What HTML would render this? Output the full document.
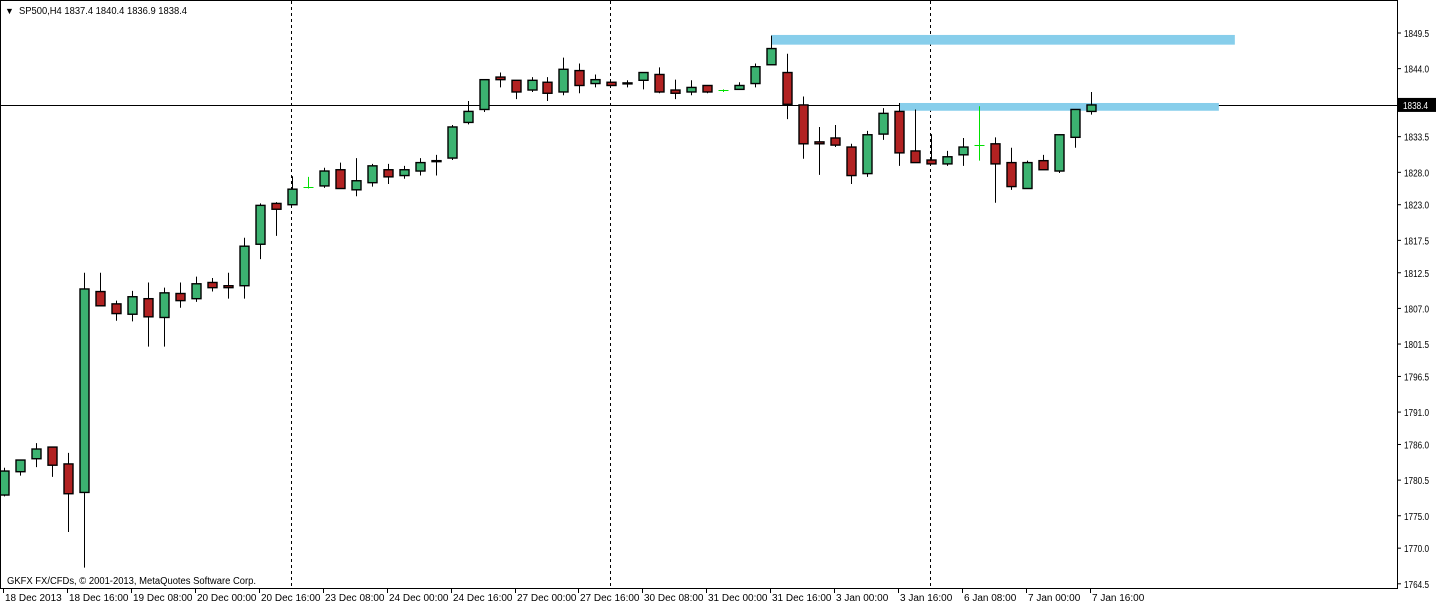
<!DOCTYPE html>
<html><head><meta charset="utf-8">
<style>
html,body{margin:0;padding:0;background:#fff;}
svg{display:block;font-family:"Liberation Sans",sans-serif;}
</style></head>
<body>
<svg id="chart" width="1436" height="606" viewBox="0 0 1436 606" xmlns="http://www.w3.org/2000/svg">
<rect x="0" y="0" width="1436" height="606" fill="#fff"/>
<g id="grid"></g>
<g id="zones"></g>
<g id="candles"></g>
<g id="axes"></g>
<rect x="0.5" y="0.5" width="1397" height="588" fill="none" stroke="#000" stroke-width="1"/>
<text x="5" y="14" font-size="9" fill="#000">▼</text>
<text x="19" y="14" font-size="10" fill="#000" textLength="168" lengthAdjust="spacingAndGlyphs">SP500,H4  1837.4 1840.4 1836.9 1838.4</text>
<text x="7" y="584" font-size="10" fill="#000" textLength="249" lengthAdjust="spacingAndGlyphs">GKFX FX/CFDs, © 2001-2013, MetaQuotes Software Corp.</text>
</svg>
<script>
const opens  = [1778.2,1781.8,1783.8,1785.6,1783.0,1778.6,1809.6,1807.7,1806.1,1808.5,1805.6,1809.3,1808.5,1811.0,1810.5,1810.5,1816.9,1823.2,1823.0,1825.8,1825.9,1828.4,1825.3,1826.4,1828.4,1827.5,1828.2,1829.8,1830.2,1835.7,1837.7,1842.7,1842.2,1840.7,1841.9,1840.4,1843.7,1841.7,1841.9,1841.8,1842.2,1843.1,1840.7,1840.4,1841.4,1840.7,1840.8,1841.7,1844.6,1843.4,1838.4,1832.7,1833.3,1831.9,1827.8,1833.9,1837.4,1831.3,1829.9,1829.3,1830.7,1832.2,1832.4,1829.5,1825.5,1829.8,1828.2,1833.4,1837.4];
const highs  = [1782.4,1783.6,1786.2,1785.6,1784.7,1812.5,1812.5,1808.2,1809.7,1811.0,1810.2,1811.0,1811.9,1811.7,1812.5,1817.9,1823.2,1823.4,1827.4,1827.3,1828.7,1829.5,1830.2,1829.3,1829.3,1829.0,1830.2,1830.7,1835.3,1839.0,1842.3,1843.4,1842.2,1842.7,1842.7,1845.7,1844.8,1843.1,1841.9,1842.2,1843.4,1844.2,1842.3,1842.2,1841.4,1840.8,1841.9,1844.8,1849.1,1846.3,1839.7,1835.0,1835.3,1832.4,1834.4,1837.9,1838.7,1837.7,1833.9,1831.3,1833.3,1838.2,1833.4,1831.8,1829.8,1830.7,1833.9,1837.7,1840.4];
const lows   = [1778.0,1781.2,1782.5,1781.0,1772.5,1767.0,1807.4,1805.1,1805.0,1801.1,1801.1,1807.1,1808.0,1809.6,1808.5,1808.5,1814.6,1818.2,1823.0,1825.5,1825.6,1825.5,1824.3,1825.8,1826.2,1827.0,1827.5,1827.5,1829.9,1835.4,1837.3,1841.1,1839.3,1840.4,1839.0,1839.9,1840.2,1841.1,1841.4,1841.1,1840.8,1840.2,1839.3,1839.9,1840.2,1840.4,1840.7,1841.1,1844.6,1836.2,1830.1,1827.6,1831.9,1826.2,1827.3,1833.0,1829.0,1829.5,1829.3,1829.0,1829.0,1829.8,1823.3,1825.3,1825.5,1828.4,1827.9,1831.8,1836.9];
const closes = [1781.9,1783.6,1785.3,1782.8,1778.4,1810.0,1807.4,1806.2,1808.8,1805.7,1809.4,1808.2,1810.8,1810.2,1810.2,1816.6,1822.9,1822.3,1825.4,1825.8,1828.2,1825.5,1826.7,1829.0,1827.3,1828.4,1829.5,1829.7,1835.0,1837.4,1842.3,1842.3,1840.4,1842.2,1840.2,1843.9,1841.4,1842.3,1841.4,1841.7,1843.4,1840.4,1840.2,1841.1,1840.4,1840.7,1841.4,1844.3,1847.1,1838.5,1832.4,1832.4,1832.2,1827.5,1833.8,1837.1,1831.0,1829.5,1829.3,1830.4,1831.9,1832.2,1829.3,1825.8,1829.5,1828.4,1833.8,1837.7,1838.4];
const priceTicks = [1849.5,1844.0,1833.5,1828.0,1823.0,1817.5,1812.5,1807.0,1801.5,1796.5,1791.0,1786.0,1780.5,1775.0,1770.0,1764.5];
const timeLabels = ["18 Dec 2013","18 Dec 16:00","19 Dec 08:00","20 Dec 00:00","20 Dec 16:00","23 Dec 08:00","24 Dec 00:00","24 Dec 16:00","27 Dec 00:00","27 Dec 16:00","30 Dec 08:00","31 Dec 00:00","31 Dec 16:00","3 Jan 00:00","3 Jan 16:00","6 Jan 08:00","7 Jan 00:00","7 Jan 16:00"];
const labelEvery = 4;
const separatorIdx = [18, 38, 58];
const currentPrice = 1838.4;
const zoneStartIdx = [48, 56];
const zoneEndIdx = [77, 76];
const zoneTop = [1849.2, 1838.7];
const zoneBottom = [1847.7, 1837.5];

const NS = "http://www.w3.org/2000/svg";
function X(i){ return 4 + i*15.985; }
function Y(p){ return 33 + (1849.5 - p)*6.48; }
function mk(tag, attrs, parent){
  const e = document.createElementNS(NS, tag);
  for (const k in attrs) e.setAttribute(k, attrs[k]);
  parent.appendChild(e);
  return e;
}
const grid = document.getElementById('grid');
const zones = document.getElementById('zones');
const cg = document.getElementById('candles');
const axes = document.getElementById('axes');

separatorIdx.forEach((idx)=>{
  const x = Math.round(X(idx)) - 0.5;
  const l = mk('line', {x1:x, y1:1, x2:x, y2:588, stroke:'#000', 'stroke-width':1, 'stroke-dasharray':'3,3'}, grid);
  
  
});

zoneTop.forEach((t, k)=>{
  const x1 = X(zoneStartIdx[k]), x2 = X(zoneEndIdx[k]);
  const r = mk('rect', {x:x1, y:Y(t), width:x2-x1, height:Y(zoneBottom[k])-Y(t), fill:'#87ceeb'}, zones);
  
  
});

const pl = mk('line', {x1:0, y1:Math.round(Y(currentPrice))+0.5, x2:1397, y2:Math.round(Y(currentPrice))+0.5, stroke:'#000', 'stroke-width':1}, grid);



opens.forEach((o, i)=>{
  const c = closes[i], h = highs[i], l = lows[i];
  const cx = Math.round(X(i)) + 0.5;
  const g = mk('g', {}, cg);
  
  
  if (o === c) {
    mk('line', {x1:cx, y1:Y(h), x2:cx, y2:Y(l), stroke:'#00e000', 'stroke-width':1}, g);
    mk('line', {x1:cx-5, y1:Math.round(Y(o))+0.5, x2:cx+5, y2:Math.round(Y(o))+0.5, stroke:'#00e000', 'stroke-width':1}, g);
    return;
  }
  mk('line', {x1:cx, y1:Y(h), x2:cx, y2:Y(l), stroke:'#000', 'stroke-width':1}, g);
  const top = Y(Math.max(o, c)), bot = Y(Math.min(o, c));
  mk('rect', {x:cx-4.5, y:top, width:9, height:Math.max(bot-top, 1), fill: c > o ? '#3cb371' : '#b22222', stroke:'#000', 'stroke-width':1.4}, g);
});

priceTicks.forEach((p)=>{
  const y = Y(p);
  const t = mk('line', {x1:1397, y1:y, x2:1401, y2:y, stroke:'#000'}, axes);
  
  
  const tx = mk('text', {x:1404, y:y+4, 'font-size':10, fill:'#000', textLength:25, lengthAdjust:'spacingAndGlyphs'}, axes);
  tx.textContent = p.toFixed(1);
  
  
});

const py = Y(currentPrice);
const pb = mk('rect', {x:1398, y:py-7, width:38, height:14, fill:'#000'}, axes);


const pt = mk('text', {x:1403, y:py+4, 'font-size':10, fill:'#fff', textLength:25, lengthAdjust:'spacingAndGlyphs'}, axes);
pt.textContent = currentPrice.toFixed(1);



timeLabels.forEach((s, k)=>{
  const x = Math.round(X(k*labelEvery)) - 1;
  const t = mk('line', {x1:x+0.5, y1:588, x2:x+0.5, y2:593, stroke:'#000'}, axes);
  
  
  const tx = mk('text', {x:x+2, y:601, 'font-size':10, fill:'#000'}, axes);
  tx.textContent = s;
  
  
});
</script>
</body></html>
